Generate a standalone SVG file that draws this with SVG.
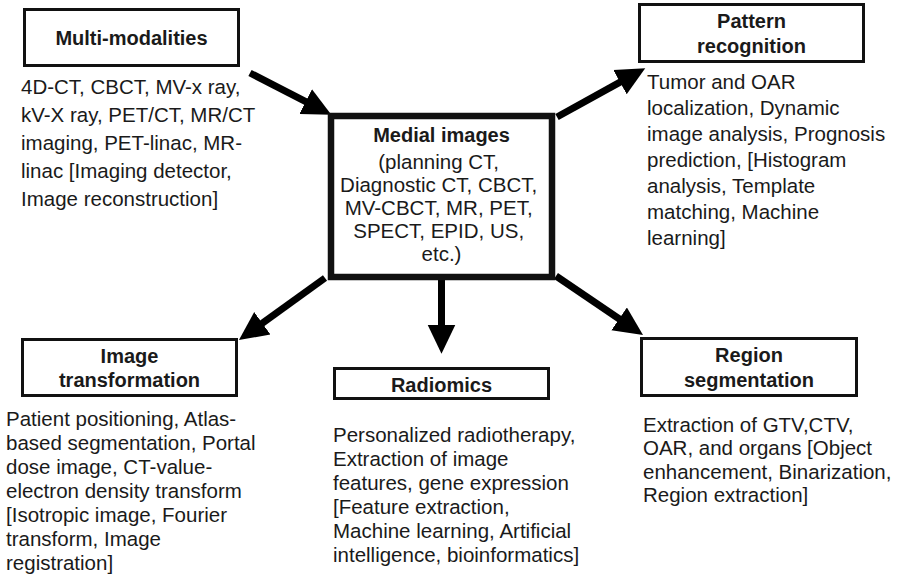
<svg xmlns="http://www.w3.org/2000/svg" width="897" height="580" viewBox="0 0 897 580">
<style>
.box{fill:#fff;stroke:#111;stroke-width:3}
.center{fill:#fff;stroke:#111;stroke-width:6.5}
.title{font-family:"Liberation Sans",Arial,sans-serif;font-weight:bold;font-size:20px;fill:#1a1a1a;text-anchor:middle}
.body{font-family:"Liberation Sans",Arial,sans-serif;font-size:20.5px;fill:#1a1a1a}
.mid{text-anchor:middle}
.conn{stroke:#000;stroke-width:7;fill:none;marker-end:url(#ah)}
</style>
<defs>
<marker id="ah" markerUnits="userSpaceOnUse" markerWidth="30" markerHeight="30" viewBox="0 -13 26 26" refX="1" refY="0" orient="auto">
<path d="M0,-12 L25,0 L0,12 z" fill="#000"/>
</marker>
</defs>
<rect width="897" height="580" fill="#fff"/>
<g id="connectors">
<line class="conn" x1="250" y1="73" x2="306.7" y2="102.1"/>
<line class="conn" x1="557" y1="117" x2="621" y2="81.6"/>
<line class="conn" x1="325" y1="278" x2="261.4" y2="323.9"/>
<line class="conn" x1="441.5" y1="280" x2="441.5" y2="326"/>
<line class="conn" x1="556" y1="276" x2="620.1" y2="319.5"/>
</g>
<g id="multi-modalities">
<rect class="box" x="24.5" y="9.5" width="214" height="56"/>
<text class="title" x="131.5" y="45">Multi-modalities</text>
<text class="body" x="21">
<tspan x="21" y="94">4D-CT, CBCT, MV-x ray,</tspan>
<tspan x="21" y="122">kV-X ray, PET/CT, MR/CT</tspan>
<tspan x="21" y="150">imaging, PET-linac, MR-</tspan>
<tspan x="21" y="178">linac [Imaging detector,</tspan>
<tspan x="21" y="206">Image reconstruction]</tspan>
</text>
</g>
<g id="medial-images">
<rect class="center" x="331" y="116" width="221" height="161"/>
<text class="title" x="441.5" y="142">Medial images</text>
<text class="body mid">
<tspan x="441.5" y="169">(planning CT,</tspan>
<tspan x="441.5" y="192">Diagnostic CT, CBCT,</tspan>
<tspan x="441.5" y="215">MV-CBCT, MR, PET,</tspan>
<tspan x="441.5" y="238">SPECT, EPID, US,</tspan>
<tspan x="441.5" y="261">etc.)</tspan>
</text>
</g>
<g id="pattern-recognition">
<rect class="box" x="639.5" y="4.5" width="224" height="57"/>
<text class="title"><tspan x="751.5" y="28">Pattern</tspan><tspan x="751.5" y="53">recognition</tspan></text>
<text class="body">
<tspan x="647" y="89">Tumor and OAR</tspan>
<tspan x="647" y="115">localization, Dynamic</tspan>
<tspan x="647" y="141">image analysis, Prognosis</tspan>
<tspan x="647" y="167">prediction, [Histogram</tspan>
<tspan x="647" y="193">analysis, Template</tspan>
<tspan x="647" y="219">matching, Machine</tspan>
<tspan x="647" y="245">learning]</tspan>
</text>
</g>
<g id="image-transformation">
<rect class="box" x="22.5" y="339.5" width="214" height="56"/>
<text class="title"><tspan x="129.5" y="363">Image</tspan><tspan x="129.5" y="387">transformation</tspan></text>
<text class="body">
<tspan x="6" y="426">Patient positioning, Atlas-</tspan>
<tspan x="6" y="450">based segmentation, Portal</tspan>
<tspan x="6" y="474">dose image, CT-value-</tspan>
<tspan x="6" y="498">electron density transform</tspan>
<tspan x="6" y="522">[Isotropic image, Fourier</tspan>
<tspan x="6" y="546">transform, Image</tspan>
<tspan x="6" y="570">registration]</tspan>
</text>
</g>
<g id="radiomics">
<rect class="box" x="334.5" y="368.5" width="214" height="30"/>
<text class="title" x="441.5" y="392">Radiomics</text>
<text class="body">
<tspan x="333" y="442">Personalized radiotherapy,</tspan>
<tspan x="333" y="466">Extraction of image</tspan>
<tspan x="333" y="490">features, gene expression</tspan>
<tspan x="333" y="514">[Feature extraction,</tspan>
<tspan x="333" y="538">Machine learning, Artificial</tspan>
<tspan x="333" y="562">intelligence, bioinformatics]</tspan>
</text>
</g>
<g id="region-segmentation">
<rect class="box" x="641.5" y="338.5" width="215" height="57"/>
<text class="title"><tspan x="749" y="362">Region</tspan><tspan x="749" y="387">segmentation</tspan></text>
<text class="body">
<tspan x="643" y="432">Extraction of GTV,CTV,</tspan>
<tspan x="643" y="455">OAR, and organs [Object</tspan>
<tspan x="643" y="479">enhancement, Binarization,</tspan>
<tspan x="643" y="502">Region extraction]</tspan>
</text>
</g>
</svg>
